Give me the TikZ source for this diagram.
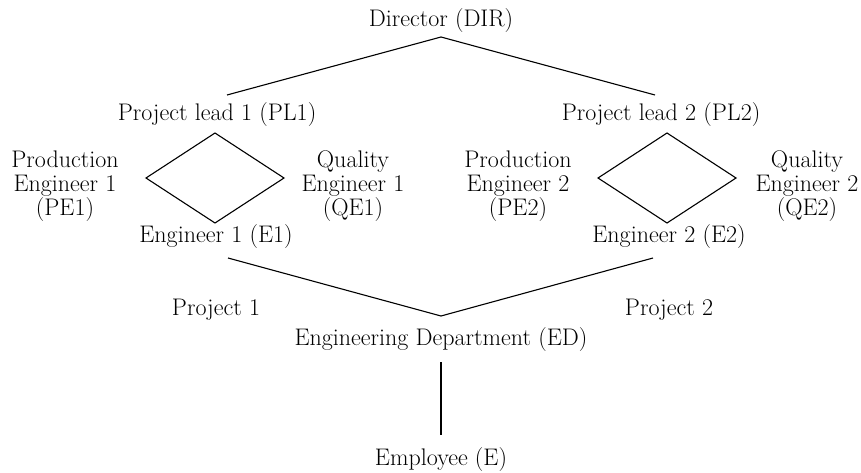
\documentclass[tikz,border=0pt]{standalone}
\begin{document}
\begin{tikzpicture}[x=1pt,y=-1pt,
  lbl/.style={inner sep=0pt,align=center,font=\fontsize{24}{24}\selectfont},
  edge/.style={line width=1.1pt}]
\useasboundingbox (0,0) rectangle (861,473);
% labels
\node[lbl] (DIR) at (441,21) {Director (DIR)};
\node[lbl] (PL1) at (217,115) {Project lead 1 (PL1)};
\node[lbl] (PL2) at (661,115) {Project lead 2 (PL2)};
\node[lbl] (PE1) at (65,186) {Production\\Engineer 1\\(PE1)};
\node[lbl] (QE1) at (353,186) {Quality\\Engineer 1\\(QE1)};
\node[lbl] (PE2) at (518,186) {Production\\Engineer 2\\(PE2)};
\node[lbl] (QE2) at (807,186) {Quality\\Engineer 2\\(QE2)};
\node[lbl] (E1) at (216,237) {Engineer 1 (E1)};
\node[lbl] (E2) at (669,237) {Engineer 2 (E2)};
\node[lbl] (P1) at (216,310) {Project 1};
\node[lbl] (P2) at (669,310) {Project 2};
\node[lbl] (ED) at (441,340) {Engineering Department (ED)};
\node[lbl] (EMP) at (441,460) {Employee (E)};
% connector ends
\coordinate (dirb) at (441,37);
\coordinate (pl1t) at (227,95);
\coordinate (pl2t) at (655,95);
\coordinate (d1t) at (215,133);
\coordinate (d1l) at (146,178);
\coordinate (d1r) at (284,178);
\coordinate (d1b) at (215,223);
\coordinate (d2t) at (667,133);
\coordinate (d2l) at (598,178);
\coordinate (d2r) at (736,178);
\coordinate (d2b) at (667,223);
\coordinate (e1b) at (228,258);
\coordinate (e2b) at (653,258);
\coordinate (edt) at (441,316);
\coordinate (edb) at (441,362);
\coordinate (empt) at (441,435);
% connectors
\draw[edge] (pl1t) -- (dirb) -- (pl2t);
\draw[edge] (d1t) -- (d1l) -- (d1b) -- (d1r) -- cycle;
\draw[edge] (d2t) -- (d2l) -- (d2b) -- (d2r) -- cycle;
\draw[edge] (e1b) -- (edt) -- (e2b);
\draw[edge] (edb) -- (empt);
\end{tikzpicture}
\end{document}
